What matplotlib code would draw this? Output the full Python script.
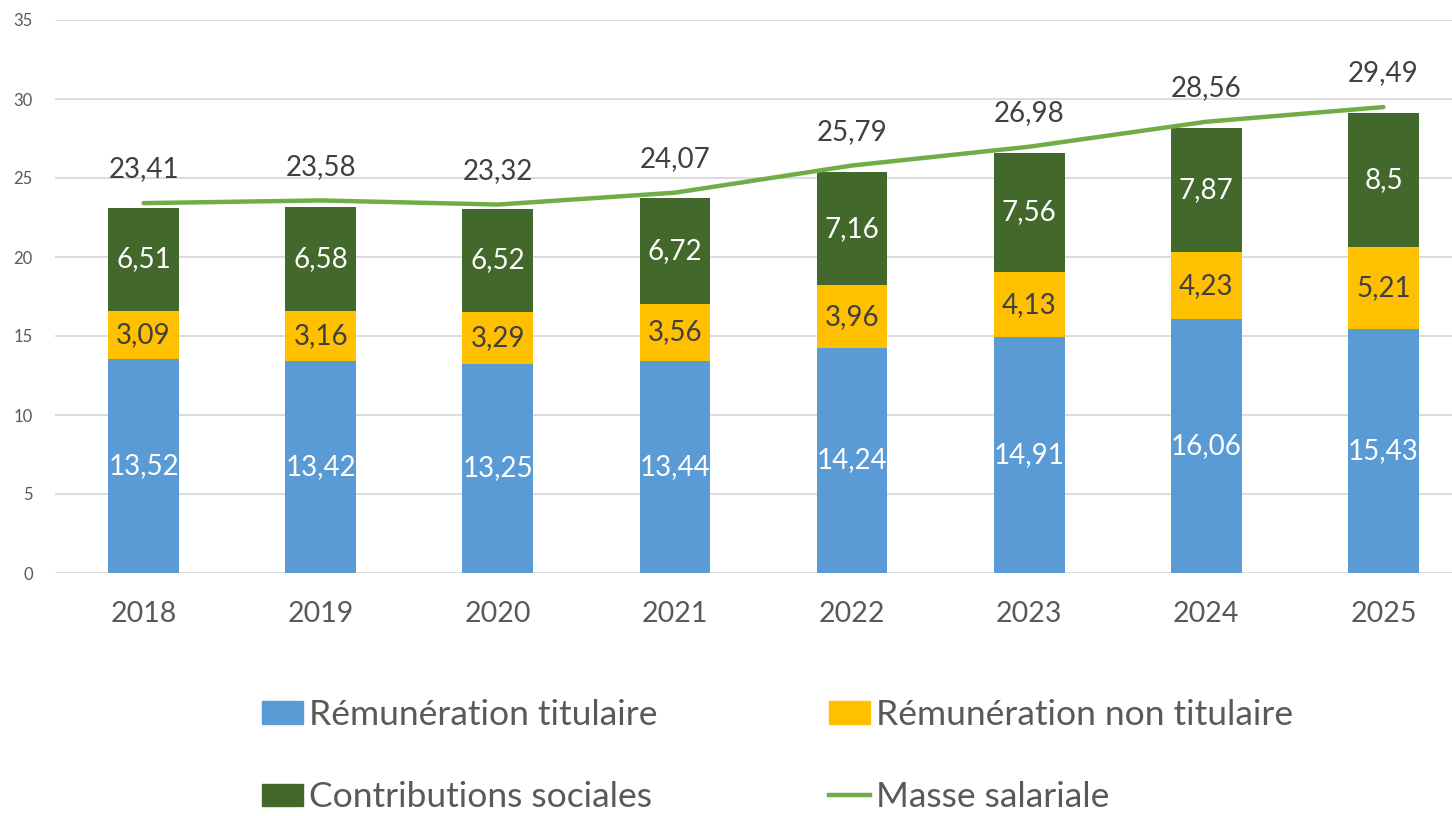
import matplotlib
matplotlib.use("Agg")
import matplotlib.pyplot as plt
from matplotlib.patches import Patch
from matplotlib.lines import Line2D
import numpy as np

years = ["2018", "2019", "2020", "2021", "2022", "2023", "2024", "2025"]
titulaire = [13.52, 13.42, 13.25, 13.44, 14.24, 14.91, 16.06, 15.43]
non_titulaire = [3.09, 3.16, 3.29, 3.56, 3.96, 4.13, 4.23, 5.21]
contributions = [6.51, 6.58, 6.52, 6.72, 7.16, 7.56, 7.87, 8.5]
masse = [23.41, 23.58, 23.32, 24.07, 25.79, 26.98, 28.56, 29.49]
yticks = [0, 5, 10, 15, 20, 25, 30, 35]

c_blue = "#5B9BD5"
c_yellow = "#FFC000"
c_dgreen = "#43682B"
c_line = "#70AD47"
c_text = "#404040"
c_tick = "#595959"

plt.rcParams['font.family'] = ['Lato', 'DejaVu Sans']

def fmt(v):
    s = ("%.2f" % v).rstrip("0").rstrip(".")
    return s.replace(".", ",")

W, H = 1452, 816
fig = plt.figure(figsize=(W / 100, H / 100), dpi=100)
ax = fig.add_axes([55 / W, (H - 573) / H, (1472 - 55) / W, 553 / H])

x = np.arange(len(years))
bw = 0.40
ax.bar(x, titulaire, bw, color=c_blue, zorder=2)
bottom2 = np.array(titulaire)
ax.bar(x, non_titulaire, bw, bottom=bottom2, color=c_yellow, zorder=2)
bottom3 = bottom2 + np.array(non_titulaire)
ax.bar(x, contributions, bw, bottom=bottom3, color=c_dgreen, zorder=2)
ax.plot(x, masse, color=c_line, lw=3.2, zorder=3, solid_capstyle="round")

fs = 20
for i in range(len(years)):
    ax.text(x[i], titulaire[i] / 2, fmt(titulaire[i]), ha="center", va="center",
            color="white", fontsize=fs, zorder=4)
    ax.text(x[i], bottom2[i] + non_titulaire[i] / 2, fmt(non_titulaire[i]), ha="center",
            va="center", color=c_text, fontsize=fs, zorder=4)
    ax.text(x[i], bottom3[i] + contributions[i] / 2, fmt(contributions[i]), ha="center",
            va="center", color="white", fontsize=fs, zorder=4)
    ax.annotate(fmt(masse[i]), (x[i], masse[i]), xytext=(0, 15), textcoords="offset points",
                ha="center", va="bottom", color=c_text, fontsize=fs, zorder=4)

ax.set_xlim(-0.5, len(years) - 0.5)
ax.set_ylim(0, 35)
ax.set_yticks(yticks)
ax.set_xticks(x)
ax.set_xticklabels(years)
ax.grid(axis="y", color="#D9D9D9", lw=1.3, zorder=0)
ax.set_axisbelow(True)
for s in ax.spines.values():
    s.set_visible(False)
ax.tick_params(axis="x", length=0, pad=20, labelsize=20.5, labelcolor=c_tick)
ax.tick_params(axis="y", length=0, pad=16, labelsize=12, labelcolor=c_tick)

lfs = 25.5
h_blue = Patch(color=c_blue)
h_yellow = Patch(color=c_yellow)
h_green = Patch(color=c_dgreen)
h_line = Line2D([], [], color=c_line, lw=3.2)

kw = dict(frameon=False, fontsize=lfs, handlelength=1.15, handleheight=0.6,
          handletextpad=0.17, labelspacing=1.42, borderaxespad=0, borderpad=0,
          labelcolor=c_tick)
fig.legend([h_blue, h_green], ["Rémunération titulaire", "Contributions sociales"],
           loc="upper left", bbox_to_anchor=(262 / W, 1 - 699 / H), **kw)
fig.legend([h_yellow, h_line], ["Rémunération non titulaire", "Masse salariale"],
           loc="upper left", bbox_to_anchor=(829 / W, 1 - 699 / H), **kw)

fig.savefig("out.png", dpi=100)
